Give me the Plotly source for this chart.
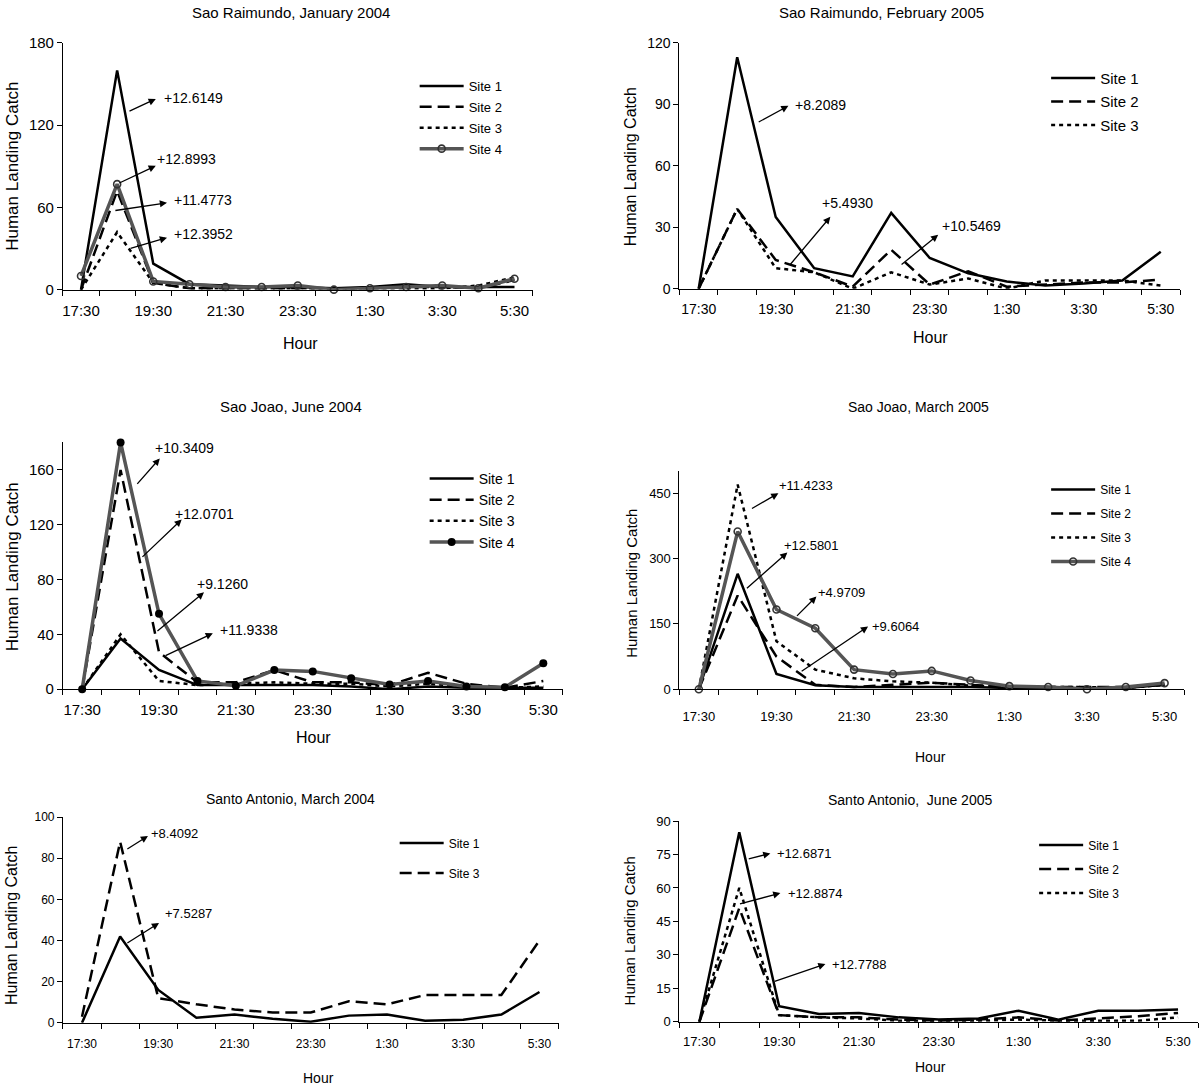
import plotly.graph_objects as go

W, H = 1200, 1087
FONT = "Liberation Sans, Arial, sans-serif"

HOURS = ["17:30", "18:30", "19:30", "20:30", "21:30", "22:30", "23:30",
         "0:30", "1:30", "2:30", "3:30", "4:30", "5:30"]

# ---- data ----
SR04_SITE1 = [0, 160, 19, 4, 3, 2, 2, 1, 2, 4, 2, 2, 2]
SR04_SITE2 = [0, 72, 5, 1, 1, 1, 1, 1, 1, 2, 2, 1, 7]
SR04_SITE3 = [0, 42, 5, 1, 1, 1, 1, 1, 1, 1, 1, 3, 9]
SR04_SITE4 = [10, 77, 6, 4, 2, 2, 3, 0, 1, 2, 3, 1, 8]

SR05_SITE1 = [0, 113, 35, 10, 6, 37, 15, 7.5, 3.5, 1.5, 2.5, 4, 18]
SR05_SITE2 = [0, 39, 14, 8, 1, 19, 2, 8.5, 1, 2, 3, 3, 4.5]
SR05_SITE3 = [0, 39, 10, 8, 0, 8, 2, 5, 0, 4, 4, 4, 1.5]

SJ04_SITE1 = [0, 37, 14, 3, 3, 3, 3, 2, 0, 2, 1, 1, 1]
SJ04_SITE2 = [0, 160, 27, 5, 5, 14, 5, 5, 3, 12, 4, 1, 6]
SJ04_SITE3 = [0, 40, 6, 3, 4, 5, 4, 4, 2, 4, 2, 1, 2]
SJ04_SITE4 = [0, 180, 55, 6, 2.5, 14, 13, 8, 3.5, 6, 2, 1.5, 19]

SJ05_SITE1 = [0, 265, 35, 9, 5, 5, 5, 5, 3, 3, 3, 3, 10]
SJ05_SITE2 = [0, 215, 75, 10, 5, 10, 15, 10, 5, 5, 5, 5, 10]
SJ05_SITE3 = [0, 470, 110, 45, 25, 18, 15, 8, 5, 5, 5, 3, 10]
SJ05_SITE4 = [0, 362, 183, 140, 45, 35, 42, 20, 7, 5, 0, 5, 14]

SA04_SITE1 = [0, 42, 16, 2.5, 4, 2, 0.5, 3.5, 4, 1, 1.5, 4, 15]
SA04_SITE3 = [3, 88, 12, 9, 6.5, 5, 5, 10.5, 9, 13.5, 13.5, 13.5, 40]

SA05_SITE1 = [0, 85, 7, 3.5, 4, 2, 1, 1.5, 5, 1, 5, 5, 5.5]
SA05_SITE2 = [0, 51, 3, 2, 2, 1, 0.5, 1, 2, 0.5, 1.5, 2.5, 4]
SA05_SITE3 = [0, 60, 3, 2, 1.5, 0.5, 0.5, 0.5, 1, 0.5, 0.5, 0.5, 2]

TITLES = ["Sao Raimundo, January 2004", "Sao Raimundo, February 2005",
          "Sao Joao, June 2004", "Sao Joao, March 2005",
          "Santo Antonio, March 2004", "Santo Antonio,  June 2005"]

Y_TICKS = [[0, 60, 120, 180], [0, 30, 60, 90, 120], [0, 40, 80, 120, 160],
           [0, 150, 300, 450], [0, 20, 40, 60, 80, 100], [0, 15, 30, 45, 60, 75, 90]]
Y_MAX = [180, 120, 180, 500, 100, 90]

# annotation values: (label, tail x, tail y, head x, head y, text x, text y, anchor)
ANNOTS = [
    [("+12.6149", 1.30, 129.7, 2.07, 139.2, 2.24, 140, "left"),
     ("+12.8993", 1.02, 77.3, 2.07, 90.4, 2.05, 95.5, "left"),
     ("+11.4773", 0.91, 57.6, 2.38, 63.4, 2.52, 65.6, "left"),
     ("+12.3952", 1.33, 29.9, 2.38, 37.9, 2.52, 40.8, "left")],
    [("+8.2089", 1.52, 81, 2.33, 89.3, 2.46, 89.8, "left"),
     ("+5.4930", 2.35, 11.2, 3.42, 35.1, 3.86, 42, "center"),
     ("+10.5469", 5.23, 11.2, 6.22, 26.3, 6.27, 30.7, "left")],
    [("+10.3409", 1.40, 148.7, 2.02, 168.4, 2.67, 175.7, "center"),
     ("+12.0701", 1.53, 95.5, 2.59, 123.9, 3.19, 127.6, "center"),
     ("+9.1260", 1.92, 41.5, 3.17, 70.7, 3.66, 76.5, "center"),
     ("+11.9338", 2.13, 24, 3.40, 40.8, 3.53, 43, "left")],
    [("+11.4233", 1.33, 413, 2.05, 450, 2.02, 468, "left"),
     ("+12.5801", 1.20, 229, 2.28, 314, 2.15, 330, "left"),
     ("+4.9709", 2.49, 165, 3.03, 213, 3.03, 222, "left"),
     ("+9.6064", 2.61, 39, 4.36, 144, 4.42, 144, "left")],
    [("+8.4092", 1.15, 84, 1.73, 90.8, 1.75, 92.2, "left"),
     ("+7.5287", 1.15, 38.3, 2.02, 48.5, 2.12, 52.9, "left")],
    [("+12.6871", 1.20, 72.9, 1.78, 75.5, 1.90, 75.5, "left"),
     ("+12.8874", 0.98, 52.7, 2.03, 57.7, 2.16, 57.7, "left"),
     ("+12.7788", 1.85, 17.9, 3.16, 25.9, 3.28, 25.9, "left")],
]

# ---- styles / layout (pixels in the target picture) ----
SOLID = dict(color="black", width=2.5, dash="solid")
DASH = dict(color="black", width=2.5, dash="12px,6px")
DOT = dict(color="black", width=2.5, dash="4px,4px")
GRAY = dict(color="#555555", width=3.5, dash="solid")

PANELS = [
    dict(box=(62, 532, 42, 289), tick=15, tl=7, title=(290, 12, 15), ytitle=(12, 165, 17),
         xtitle=(300, 343, 16), legend=(468, 85, 13, 1), ann=14,
         series=[("Site 1", SR04_SITE1, SOLID, None), ("Site 2", SR04_SITE2, DASH, None),
                 ("Site 3", SR04_SITE3, DOT, None), ("Site 4", SR04_SITE4, GRAY, "open")]),
    dict(box=(679, 1180, 42, 288), tick=14, tl=8, title=(881, 12, 15), ytitle=(630, 166, 16),
         xtitle=(930, 337, 16), legend=(1100, 77, 15, 1), ann=14,
         series=[("Site 1", SR05_SITE1, SOLID, None), ("Site 2", SR05_SITE2, DASH, None),
                 ("Site 3", SR05_SITE3, DOT, None)]),
    dict(box=(62, 562, 442, 689), tick=15, tl=7, title=(290, 406, 15), ytitle=(11, 566, 17),
         xtitle=(313, 737, 16), legend=(478, 478, 14, 0), ann=14,
         series=[("Site 1", SJ04_SITE1, SOLID, None), ("Site 2", SJ04_SITE2, DASH, None),
                 ("Site 3", SJ04_SITE3, DOT, None), ("Site 4", SJ04_SITE4, GRAY, "filled")]),
    dict(box=(679, 1184, 471, 689), tick=13, tl=15, title=(918, 406, 14), ytitle=(631, 583, 15),
         xtitle=(930, 757, 14), legend=(1100, 489, 12, 5), ann=13,
         series=[("Site 1", SJ05_SITE1, SOLID, None), ("Site 2", SJ05_SITE2, DASH, None),
                 ("Site 3", SJ05_SITE3, DOT, None), ("Site 4", SJ05_SITE4, GRAY, "open")]),
    dict(box=(62, 558, 817, 1023), tick=12, tl=10, title=(290, 799, 14), ytitle=(11, 925, 16),
         xtitle=(318, 1078, 14), legend=(448, 843, 12, 11), ann=13,
         series=[("Site 1", SA04_SITE1, SOLID, None), ("Site 3", SA04_SITE3, DASH, None)]),
    dict(box=(679, 1198, 821, 1022), tick=13, tl=8, title=(910, 800, 14), ytitle=(629, 931, 15),
         xtitle=(930, 1067, 14), legend=(1088, 845, 12, 5), ann=13,
         series=[("Site 1", SA05_SITE1, SOLID, None), ("Site 2", SA05_SITE2, DASH, None),
                 ("Site 3", SA05_SITE3, DOT, None)]),
]

ITEMW = 44
# vertical calibration of the rendered page (measured from a previous render)
Y_OFF, Y_SCALE = 8.0, 0.9855


def fx(px):
    return px / W


def fy(py):
    return 1 - ((py - Y_OFF) / Y_SCALE) / H


fig = go.Figure()
layout = dict(width=W, height=H, margin=dict(l=0, r=0, t=0, b=0),
              paper_bgcolor="white", plot_bgcolor="white",
              font=dict(family=FONT, color="black"), annotations=[])

xcat = list(range(len(HOURS)))

for i, p in enumerate(PANELS):
    n = "" if i == 0 else str(i + 1)
    xa, ya = "x" + n, "y" + n
    lg = "legend" + n
    x0, x1, y0, y1 = p["box"]
    for name, vals, style, marker in p["series"]:
        if marker == "open":
            kw = dict(mode="lines+markers",
                      marker=dict(symbol="circle-open", size=7, color="#333333", line=dict(width=1.6)))
        elif marker == "filled":
            kw = dict(mode="lines+markers", marker=dict(symbol="circle", size=8, color="black"))
        else:
            kw = dict(mode="lines")
        fig.add_trace(go.Scatter(x=xcat, y=vals, name=name, line=style, xaxis=xa, yaxis=ya,
                                 legend=lg, legendgroup=f"{i}-{name}", cliponaxis=False,
                                 hoverinfo="skip", **kw))
    layout["xaxis" + n] = dict(
        domain=[fx(x0), fx(x1)], anchor=ya, range=[-0.5, len(HOURS) - 0.5],
        tickvals=xcat[::2], ticktext=HOURS[::2], ticks="outside", ticklen=p["tl"],
        tickcolor="rgba(0,0,0,0)", tickfont=dict(size=p["tick"], family=FONT),
        minor=dict(tickvals=[k - 0.5 for k in range(len(HOURS) + 1)], ticks="outside",
                   ticklen=5, tickcolor="black", tickwidth=1, showgrid=False),
        showline=True, linecolor="black", linewidth=1, showgrid=False, zeroline=False,
        fixedrange=True)
    layout["yaxis" + n] = dict(
        domain=[fy(y1), fy(y0)], anchor=xa, range=[0, Y_MAX[i]], tickvals=Y_TICKS[i],
        ticks="outside", ticklen=5, tickcolor="black", tickfont=dict(size=p["tick"], family=FONT),
        showline=True, linecolor="black", linewidth=1, showgrid=False, zeroline=False,
        fixedrange=True)
    tx, first_y, lfs, gap = p["legend"]
    item_h = max(lfs * 1.3, 16) + 3
    layout[lg] = dict(x=fx(tx - ITEMW - 10), y=fy(first_y - item_h / 2 - 5), xanchor="left",
                      yanchor="top", bgcolor="rgba(0,0,0,0)", borderwidth=0,
                      font=dict(size=lfs, family=FONT),
                      traceorder="grouped", tracegroupgap=gap, itemwidth=ITEMW)
    # titles
    tx_, ty_, tfs = p["title"]
    layout["annotations"].append(dict(text=TITLES[i], x=fx(tx_), y=fy(ty_), xref="paper", yref="paper",
                                      showarrow=False, font=dict(size=tfs), xanchor="center", yanchor="middle"))
    yx, yy, yfs = p["ytitle"]
    layout["annotations"].append(dict(text="Human Landing Catch", x=fx(yx), y=fy(yy), xref="paper",
                                      yref="paper", showarrow=False, textangle=-90,
                                      font=dict(size=yfs), xanchor="center", yanchor="middle"))
    hx, hy, hfs = p["xtitle"]
    layout["annotations"].append(dict(text="Hour", x=fx(hx), y=fy(hy), xref="paper", yref="paper",
                                      showarrow=False, font=dict(size=hfs), xanchor="center",
                                      yanchor="middle"))
    for (lab, tx0, ty0, hx0, hy0, lx, ly, anc) in ANNOTS[i]:
        layout["annotations"].append(dict(text="", x=hx0, y=hy0, ax=tx0, ay=ty0, xref=xa, yref=ya,
                                          axref=xa, ayref=ya, showarrow=True, arrowhead=2,
                                          arrowsize=1.1, arrowwidth=1.3, arrowcolor="black"))
        layout["annotations"].append(dict(text=lab, x=lx, y=ly, xref=xa, yref=ya, showarrow=False,
                                          xanchor=anc, yanchor="middle", font=dict(size=p["ann"])))

fig.update_layout(**layout)
fig.write_html("out.html", config={"displayModeBar": False},
               post_script="document.body.style.margin='0';")
